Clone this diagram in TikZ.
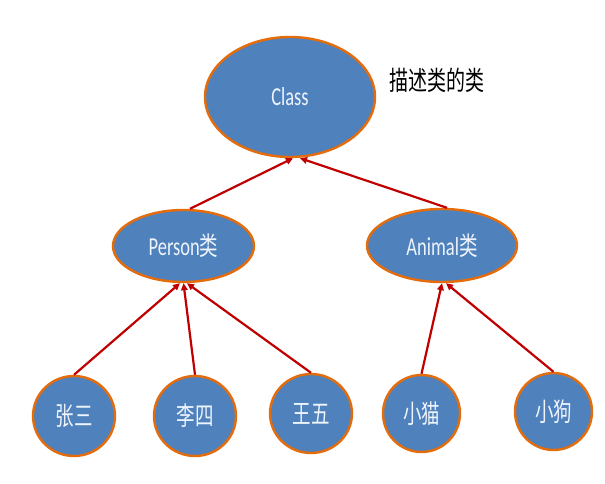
\documentclass[tikz,border=0pt]{standalone}
\usepackage{fontspec}
\setmainfont{Carlito}
\newfontfamily\cjk{Noto Sans CJK SC}
\usetikzlibrary{shapes.geometric,arrows.meta}
\definecolor{nodeblue}{HTML}{4F81BD}
\definecolor{nodeorange}{HTML}{E46C0A}
\definecolor{arrred}{HTML}{C00000}
\definecolor{paletext}{HTML}{EEF4FC}
\newcommand{\tall}[1]{\scalebox{1}[1.4]{#1}}
\tikzset{
  bubble/.style={ellipse, draw=nodeorange, fill=nodeblue, line width=2.4pt, inner sep=0pt,
    text=paletext, font=\fontsize{18.5}{20}\selectfont},
  leaf/.style={bubble, font=\cjk\fontsize{18.5}{20}\selectfont},
  arr/.style={draw=arrred, line width=2.2pt, -{Triangle[length=7pt,width=6.5pt]}},
  note/.style={text=black, font=\cjk\fontsize{19}{21}\selectfont}
}
\begin{document}
\begin{tikzpicture}[x=1pt,y=-1pt]
\useasboundingbox (0,0) rectangle (605,484);
\node[bubble, minimum width=170pt, minimum height=120pt] (class) at (290,97) {\tall{Class}};
\node[note] (desc) at (437,80) {\tall{描述类的类}};
\node[bubble, minimum width=141pt, minimum height=72pt] (person) at (183.5,246) {\tall{Person{\cjk 类}}};
\node[bubble, minimum width=150pt, minimum height=73pt] (animal) at (442,245.5) {\tall{Animal{\cjk 类}}};
\node[leaf, minimum width=82pt, minimum height=80pt] (zs) at (74,416) {\tall{张三}};
\node[leaf, minimum width=82pt, minimum height=80pt] (ls) at (195,416) {\tall{李四}};
\node[leaf, minimum width=82pt, minimum height=79pt] (ww) at (311,413.5) {\tall{王五}};
\node[leaf, minimum width=77pt, minimum height=77pt] (xm) at (421.5,413.5) {\tall{小猫}};
\node[leaf, minimum width=77pt, minimum height=77pt] (xg) at (553.5,411.5) {\tall{小狗}};
\draw[arr] ([xshift=6.5pt]person.north) -- ([xshift=3pt]class.south);
\draw[arr] ([xshift=5pt]animal.north) -- ([xshift=10pt]class.south);
\draw[arr] (zs.north) -- ([xshift=-3.5pt]person.south);
\draw[arr] (ls.north) -- ([xshift=0pt]person.south);
\draw[arr] (ww.north) -- ([xshift=3.5pt]person.south);
\draw[arr] (xm.north) -- ([xshift=0pt]animal.south);
\draw[arr] (xg.north) -- ([xshift=4pt]animal.south);
\end{tikzpicture}
\end{document}
